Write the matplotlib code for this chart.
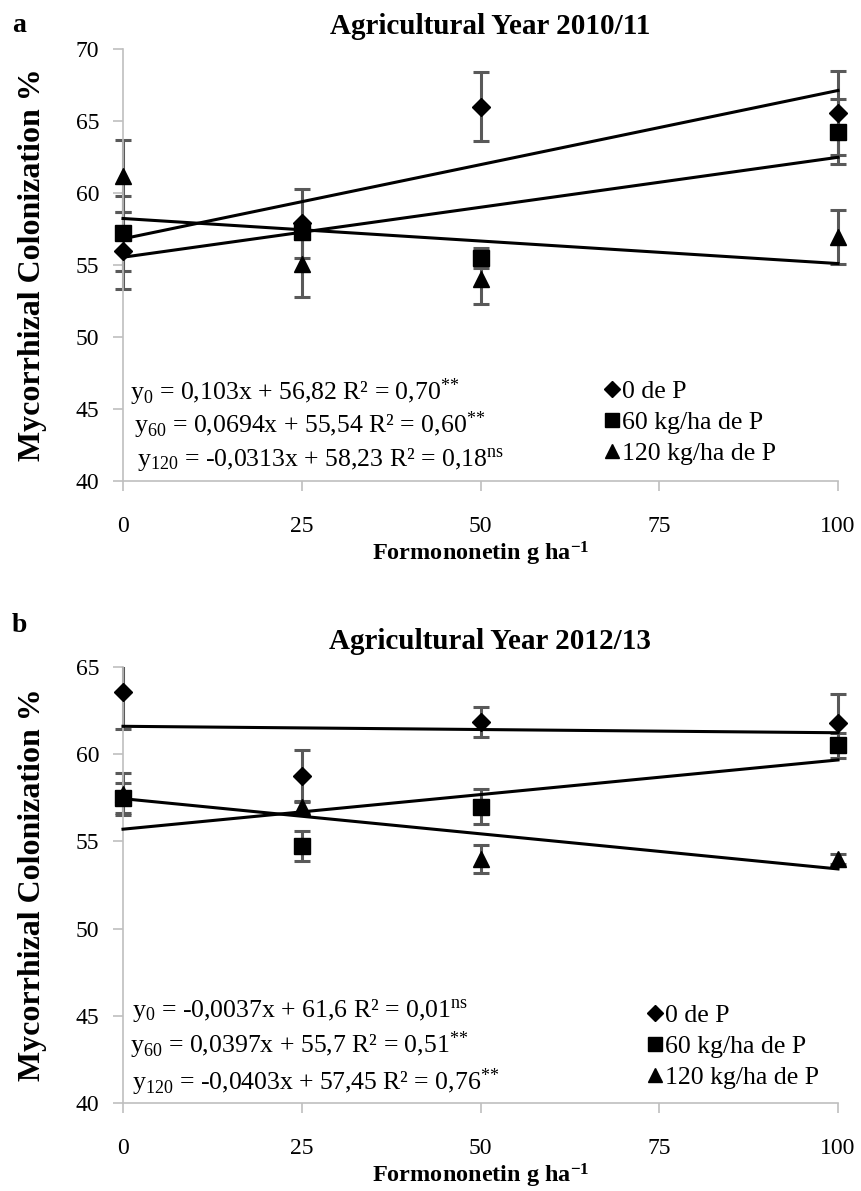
import matplotlib.pyplot as plt
from matplotlib.lines import Line2D
from matplotlib.patches import Rectangle
import numpy as np

plt.rcParams['font.family'] = 'Liberation Serif'
plt.rcParams['mathtext.fontset'] = 'custom'
plt.rcParams['mathtext.rm'] = 'Liberation Serif'
plt.rcParams['mathtext.it'] = 'Liberation Serif:italic'
plt.rcParams['mathtext.bf'] = 'Liberation Serif:bold'

# -----------------------------
# Données
# -----------------------------
doses = [0, 25, 50, 100]
series_labels = ["0 de P", "60 kg/ha de P", "120 kg/ha de P"]
markers = ["D", "s", "^"]
marker_sizes = [9, 11, 11]

# 2010/11
moy_a = [[56.0, 57.9, 66.0, 65.55],
         [57.2, 57.3, 55.5, 64.25],
         [61.2, 55.1, 54.0, 56.95]]
err_a = [[2.7, 2.4, 2.4, 2.9],
         [2.6, 0.5, 0.7, 2.25],
         [2.5, 2.35, 1.7, 1.9]]
pente_a = [0.103, 0.0694, -0.0313]
ordo_a = [56.82, 55.54, 58.23]
eq_a = [r"$\mathregular{y_{0}}$ = 0,103x + 56,82 R² = 0,70$\mathregular{^{{*}{*}}}$",
        r"$\mathregular{y_{60}}$ = 0,0694x + 55,54 R² = 0,60$\mathregular{^{{*}{*}}}$",
        r"$\mathregular{y_{120}}$ = -0,0313x + 58,23 R² = 0,18$\mathregular{^{ns}}$"]

# 2012/13
moy_b = [[63.55, 58.75, 61.85, 61.8],
         [57.5, 54.75, 57.0, 60.5],
         [57.7, 57.0, 54.0, 54.0]]
err_b = [[2.1, 1.5, 0.85, 1.65],
         [0.85, 0.85, 1.0, 0.7],
         [1.2, 0.3, 0.8, 0.3]]
pente_b = [-0.0037, 0.0397, -0.0403]
ordo_b = [61.6, 55.7, 57.45]
eq_b = [r"$\mathregular{y_{0}}$ = -0,0037x + 61,6 R² = 0,01$\mathregular{^{ns}}$",
        r"$\mathregular{y_{60}}$ = 0,0397x + 55,7 R² = 0,51$\mathregular{^{{*}{*}}}$",
        r"$\mathregular{y_{120}}$ = -0,0403x + 57,45 R² = 0,76$\mathregular{^{{*}{*}}}$"]

GRIS = "#595959"
AXE = "#bfbfbf"


def panneau(ax, moy, err, pente, ordo, eqs, ymax, eq_y, eq_x, leg_x, leg_y):
    clip = Rectangle((-0.05, 0), 1.1, 1.0, transform=ax.transAxes)
    xs = np.array([0, 100])
    for k in range(3):
        ax.plot(xs, pente[k] * xs + ordo[k], color="black", lw=2.2, zorder=3,
                clip_on=False)
    for k in range(3):
        cont = ax.errorbar(doses, moy[k], yerr=err[k], fmt="none",
                           ecolor=GRIS, elinewidth=2.2, capsize=6,
                           capthick=2.2, zorder=2)
        for art in cont.lines[1] + cont.lines[2]:
            art.set_clip_path(clip)
        ax.plot(doses, moy[k], linestyle="none", marker=markers[k],
                markersize=marker_sizes[k], color="black", zorder=4,
                clip_on=False)

    ax.set_xlim(0, 100)
    ax.set_ylim(40, ymax)
    ax.set_xticks([0, 25, 50, 75, 100])
    ax.set_yticks(range(40, ymax + 1, 5))
    for s in ["top", "right"]:
        ax.spines[s].set_visible(False)
    for s in ["left", "bottom"]:
        ax.spines[s].set_color(AXE)
        ax.spines[s].set_linewidth(1.2)
    ax.tick_params(axis="both", direction="out", length=7, width=1.2,
                   color=AXE, labelsize=17)
    ax.tick_params(axis="x", pad=18)
    ax.tick_params(axis="y", pad=10)

    for k in range(3):
        ax.text(eq_x[k], eq_y[k], eqs[k], transform=ax.transAxes,
                fontsize=18.5, va="center", ha="left")

    poignees = [Line2D([], [], linestyle="none", marker=markers[k],
                       markersize=marker_sizes[k] - 1, color="black")
                for k in range(3)]
    ax.legend(poignees, series_labels, loc="center left",
              bbox_to_anchor=(leg_x, leg_y), frameon=False, fontsize=18.5,
              handlelength=0.6, handletextpad=0.1, labelspacing=0.3,
              borderpad=0)

    ax.set_xlabel("Formononetin g ha$^{\\mathregular{-1}}$", fontsize=17.5,
                  fontweight="bold", labelpad=2)


fig = plt.figure(figsize=(8.61, 11.91), dpi=100)
ax_a = fig.add_axes([123 / 861, 1 - 481 / 1191, 715 / 861, 432 / 1191])
ax_b = fig.add_axes([123 / 861, 1 - 1103 / 1191, 715 / 861, 436 / 1191])

panneau(ax_a, moy_a, err_a, pente_a, ordo_a, eq_a, 70,
        [0.206, 0.130, 0.049], [0.01, 0.015, 0.02], 0.655, 0.135)
panneau(ax_b, moy_b, err_b, pente_b, ordo_b, eq_b, 65,
        [0.213, 0.133, 0.048], [0.012, 0.01, 0.012], 0.715, 0.13)

fig.text(490 / 861, 1 - 27 / 1191, "Agricultural Year 2010/11", fontsize=21,
         fontweight="bold", ha="center", va="center")
fig.text(490 / 861, 1 - 641 / 1191, "Agricultural Year 2012/13", fontsize=21,
         fontweight="bold", ha="center", va="center")
fig.text(12 / 861, 1 - 25 / 1191, "a", fontsize=20, fontweight="bold",
         ha="left", va="center")
fig.text(12 / 861, 1 - 625 / 1191, "b", fontsize=20, fontweight="bold",
         ha="left", va="center")

for centre in [265, 885]:
    fig.text(33 / 861, 1 - centre / 1191, "Mycorrhizal Colonization %",
             fontsize=23, fontweight="bold", rotation=90,
             ha="center", va="center")

plt.savefig("out.png", dpi=100)
